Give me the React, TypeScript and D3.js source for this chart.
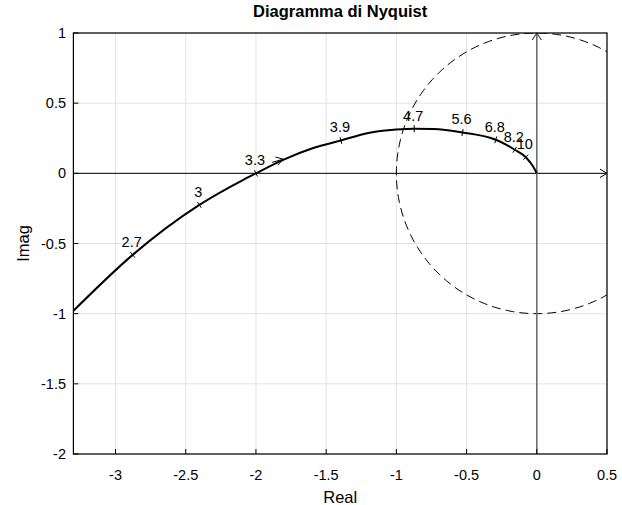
import React from 'react';
import * as d3 from 'd3';

const xTicks = [-3, -2.5, -2, -1.5, -1, -0.5, 0, 0.5];
const yTicks = [-2, -1.5, -1, -0.5, 0, 0.5, 1];

const curveRe = [-3.3, -2.878, -2.403, -2.09, -2.0, -1.806, -1.592, -1.395, -1.2, -1.0, -0.873, -0.738, -0.529, -0.292, -0.216, -0.157, -0.078, -0.026, 0];
const curveIm = [-0.98, -0.581, -0.225, -0.046, 0, 0.096, 0.18, 0.234, 0.288, 0.312, 0.318, 0.316, 0.291, 0.239, 0.203, 0.168, 0.115, 0.048, 0];

// frequency markers on the curve
const markerLabels = ['2.7', '3', '3.3', '3.9', '4.7', '5.6', '6.8', '8.2', '10'];
const markerRe = [-2.878, -2.403, -2.0, -1.395, -0.873, -0.529, -0.292, -0.157, -0.078];
const markerIm = [-0.581, -0.225, 0, 0.234, 0.318, 0.291, 0.239, 0.168, 0.115];

// direction arrow near the crossing
const arrowRe = [-1.885, -1.805];
const arrowIm = [0.078, 0.101];

const W = 622;
const H = 505;
const margin = { top: 33, right: 15, bottom: 51, left: 73.4 };
const font = '"Liberation Sans", Arial, Helvetica, sans-serif';

const chevron = (tx: number, ty: number, ang: number, len = 7, hw = 4.2) => {
  const bx = tx - len * Math.cos(ang);
  const by = ty - len * Math.sin(ang);
  const px = -Math.sin(ang) * hw;
  const py = Math.cos(ang) * hw;
  return `M${bx + px},${by + py}L${tx},${ty}L${bx - px},${by - py}`;
};

const App = () => {
  const x = d3.scaleLinear().domain([-3.3, 0.5]).range([margin.left, W - margin.right]);
  const y = d3.scaleLinear().domain([-2, 1]).range([H - margin.bottom, margin.top]);
  const [x0, x1] = x.range();
  const [yb, yt] = y.range();

  const pts: [number, number][] = curveRe.map((r, i) => [r, curveIm[i]]);
  const line = d3
    .line<[number, number]>()
    .x(d => x(d[0]))
    .y(d => y(d[1]))
    .curve(d3.curveMonotoneX);

  const circle = d3.range(0, 361, 2).map(a => [Math.cos((a * Math.PI) / 180), Math.sin((a * Math.PI) / 180)] as [number, number]);
  const circleLine = d3.line<[number, number]>().x(d => x(d[0])).y(d => y(d[1]));

  const ax = x(arrowRe[1]);
  const ay = y(arrowIm[1]);
  const aAng = Math.atan2(ay - y(arrowIm[0]), ax - x(arrowRe[0]));

  return (
    <svg width={W} height={H} style={{ position: 'absolute', left: 0, top: 0, background: '#fff' }} fontFamily={font}>
      <defs>
        <clipPath id="plot">
          <rect x={x0} y={yt} width={x1 - x0} height={yb - yt} />
        </clipPath>
      </defs>
      <rect width={W} height={H} fill="#fff" />

      {/* grid */}
      {xTicks.map(t => (
        <line key={'gx' + t} x1={x(t)} x2={x(t)} y1={yb} y2={yt} stroke="#e2e2e2" strokeWidth={1} />
      ))}
      {yTicks.map(t => (
        <line key={'gy' + t} x1={x0} x2={x1} y1={y(t)} y2={y(t)} stroke="#e2e2e2" strokeWidth={1} />
      ))}

      <g clipPath="url(#plot)">
        <path d={circleLine(circle) || ''} fill="none" stroke="#000" strokeWidth={1} strokeDasharray="9,5" />
      </g>

      {/* real / imaginary axes */}
      <line x1={x0} x2={x(0.5)} y1={y(0)} y2={y(0)} stroke="#000" strokeWidth={1} />
      <path d={chevron(x(0.5), y(0), 0)} fill="none" stroke="#000" strokeWidth={1} />
      <line x1={x(0)} x2={x(0)} y1={yb} y2={y(1)} stroke="#6e6e6e" strokeWidth={1.6} />
      <path d={chevron(x(0), y(1), -Math.PI / 2, 7, 4.6)} fill="none" stroke="#444" strokeWidth={1.2} />

      <g clipPath="url(#plot)">
        <path d={line(pts) || ''} fill="none" stroke="#000" strokeWidth={2} />
      </g>

      {/* frequency markers */}
      {markerLabels.map((lab, i) => {
        const j = curveRe.indexOf(markerRe[i]);
        const p0 = pts[Math.max(0, j - 1)];
        const p1 = pts[Math.min(pts.length - 1, j + 1)];
        const ang = Math.atan2(y(p1[1]) - y(p0[1]), x(p1[0]) - x(p0[0]));
        const cx = x(markerRe[i]);
        const cy = y(markerIm[i]);
        const nx = -Math.sin(ang) * 3.5;
        const ny = Math.cos(ang) * 3.5;
        return (
          <g key={lab}>
            <line x1={cx - nx} y1={cy - ny} x2={cx + nx} y2={cy + ny} stroke="#000" strokeWidth={1} />
            <text x={cx - 1} y={cy - 8} textAnchor="middle" fontSize={14.5} fill="#000">
              {lab}
            </text>
          </g>
        );
      })}

      {/* direction arrow */}
      <line x1={x(arrowRe[0])} y1={y(arrowIm[0])} x2={ax} y2={ay} stroke="#000" strokeWidth={1} />
      <path d={chevron(ax, ay, aAng, 7, 4.2)} fill="none" stroke="#000" strokeWidth={1} />

      {/* box and ticks */}
      <rect x={x0} y={yt} width={x1 - x0} height={yb - yt} fill="none" stroke="#000" strokeWidth={1.2} />
      {xTicks.map(t => (
        <g key={'tx' + t}>
          <line x1={x(t)} x2={x(t)} y1={yb} y2={yb - 5} stroke="#000" strokeWidth={1} />
          <text x={x(t)} y={480} textAnchor="middle" fontSize={14.5} fill="#000">
            {String(t)}
          </text>
        </g>
      ))}
      {yTicks.map(t => (
        <g key={'ty' + t}>
          <line x1={x0} x2={x0 + 5} y1={y(t)} y2={y(t)} stroke="#000" strokeWidth={1} />
          <text x={66} y={y(t)} dy="0.35em" textAnchor="end" fontSize={14.5} fill="#000">
            {String(t)}
          </text>
        </g>
      ))}

      <text x={(x0 + x1) / 2} y={17} textAnchor="middle" fontSize={16.5} fontWeight="bold" fill="#000">
        Diagramma di Nyquist
      </text>
      <text x={(x0 + x1) / 2} y={503} textAnchor="middle" fontSize={16.5} fill="#000">
        Real
      </text>
      <text transform={`translate(29,${(yb + yt) / 2}) rotate(-90)`} textAnchor="middle" fontSize={16.5} fill="#000">
        Imag
      </text>
    </svg>
  );
};

export default App;
